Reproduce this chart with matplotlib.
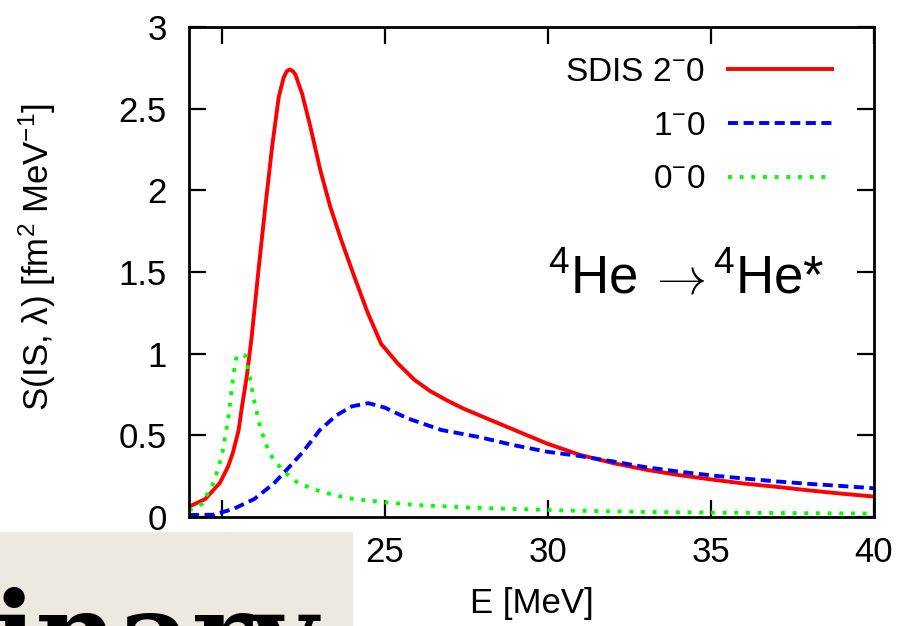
import matplotlib
matplotlib.use("Agg")
import matplotlib.pyplot as plt
from matplotlib.patches import Rectangle
from matplotlib.ticker import FormatStrFormatter

plt.rcParams['font.family'] = ['Liberation Sans', 'DejaVu Sans']
plt.rcParams['mathtext.fontset'] = 'custom'
plt.rcParams['mathtext.rm'] = 'Liberation Sans'
plt.rcParams['mathtext.it'] = 'Liberation Sans'

# SDIS 2- 0 (solid red)
e_2m = [19.0, 19.5, 19.95, 20.2, 20.34, 20.52, 20.62, 20.77, 20.92, 21.14, 21.34, 21.55,
        21.75, 21.9, 22.0, 22.09, 22.18, 22.26, 22.47, 22.72, 23.03, 23.33, 23.66, 24.07,
        24.48, 24.89, 25.4, 25.91, 26.4, 26.9, 27.4, 27.93, 28.95, 29.97, 30.99, 32.0,
        33.0, 34.0, 35.0, 36.0, 37.0, 38.0, 39.0, 40.0]
s_2m = [0.063, 0.11, 0.21, 0.31, 0.39, 0.53, 0.67, 0.86, 1.10, 1.53, 1.90, 2.27,
        2.57, 2.69, 2.73, 2.74, 2.73, 2.71, 2.59, 2.39, 2.12, 1.90, 1.70, 1.47,
        1.25, 1.06, 0.94, 0.84, 0.77, 0.715, 0.665, 0.62, 0.535, 0.45, 0.38, 0.33,
        0.29, 0.257, 0.23, 0.205, 0.185, 0.163, 0.143, 0.125]

# 1- 0 (dashed blue)
e_1m = [19.0, 19.75, 20.37, 21.0, 21.6, 22.0, 22.5, 23.0, 23.5, 24.0, 24.5, 25.0,
        25.7, 26.73, 27.93, 28.95, 29.97, 30.99, 32.0, 33.0, 34.0, 35.0, 36.0, 37.0,
        38.0, 39.0, 40.0]
s_1m = [0.012, 0.014, 0.05, 0.11, 0.205, 0.29, 0.40, 0.53, 0.62, 0.678, 0.697, 0.67,
        0.604, 0.533, 0.488, 0.44, 0.40, 0.373, 0.34, 0.305, 0.278, 0.255, 0.236, 0.218,
        0.203, 0.19, 0.176]

# 0- 0 (dotted green)
e_0m = [19.0, 19.4, 19.73, 19.9, 20.03, 20.2, 20.32, 20.42, 20.48, 20.72, 20.82, 20.98,
        21.18, 21.46, 21.85, 22.35, 23.05, 23.87, 24.9, 25.9, 27.7, 30.5, 33.0, 35.0,
        37.5, 40.0]
s_0m = [0.04, 0.08, 0.2, 0.3, 0.4, 0.6, 0.8, 0.95, 0.99, 0.99, 0.9, 0.73,
        0.55, 0.39, 0.29, 0.206, 0.155, 0.115, 0.092, 0.074, 0.057, 0.04, 0.031, 0.027,
        0.024, 0.021]

labels = [r'SDIS 2$^{-}$0', r'1$^{-}$0', r'0$^{-}$0']
x_ticks = [20, 25, 30, 35, 40]
y_ticks = [0, 0.5, 1, 1.5, 2, 2.5, 3]

W, H = 910, 626
fig = plt.figure(figsize=(W / 100, H / 100), dpi=100)
ax = fig.add_axes([189 / W, (H - 517) / H, (874 - 189) / W, (517 - 27) / H])

lw = 2.8
ax.plot(e_2m, s_2m, color='#ff0000', lw=lw, label=labels[0])
ax.plot(e_1m, s_1m, color='#0000ff', lw=lw, dashes=(2.6, 1.4), dash_capstyle='butt', label=labels[1])
ax.plot(e_0m, s_0m, color='#00ff00', lw=lw, dashes=(1, 2.0), dash_capstyle='butt', label=labels[2])

ax.set_xlim(19, 40)
ax.set_ylim(0, 3)
ax.set_xticks(x_ticks)
ax.set_yticks(y_ticks)
ax.yaxis.set_major_formatter(FormatStrFormatter('%g'))
ax.tick_params(direction='in', length=12, width=1.6, top=True, right=True,
               labelsize=25)
ax.tick_params(axis='y', pad=16)
ax.tick_params(axis='x', pad=14)
for sp in ax.spines.values():
    sp.set_linewidth(2.0)

ax.set_xlabel('E [MeV]', fontsize=25, labelpad=13)
ax.set_ylabel('S(IS, λ) [fm$^2$ MeV$^{-1}$]', fontsize=25)
ax.yaxis.set_label_coords(-0.191, 0.53)

ax.legend(loc='upper right', bbox_to_anchor=(0.939, 0.939), frameon=False,
          markerfirst=False, fontsize=24, handlelength=3.12, handletextpad=0.69,
          labelspacing=0.68, borderpad=0, borderaxespad=0)

# 4He -> 4He* annotation (thin TeX arrow drawn on its own)
ax.text((548 - 189) / 685, (517 - 293) / 490, r'$^4$He', transform=ax.transAxes,
        ha='left', va='baseline', fontsize=38)
ax.text((677 - 189) / 685, (517 - 293) / 490, r'$\rightarrow$', transform=ax.transAxes,
        ha='center', va='baseline', fontsize=36, math_fontfamily='cm')
ax.text((825 - 189) / 685, (517 - 293) / 490, r'$^4$He*', transform=ax.transAxes,
        ha='right', va='baseline', fontsize=38)

# overlapping page element at the bottom left
fig.add_artist(Rectangle((0, 0), 353 / W, 94 / H, transform=fig.transFigure,
                         facecolor='#ece9e0', edgecolor='none', zorder=5))
fig.text(-8 / W, -48 / H, 'inary', fontsize=82, fontweight='bold',
         family='DejaVu Serif', ha='left', va='baseline', zorder=6)

fig.savefig('out.png', dpi=100)
